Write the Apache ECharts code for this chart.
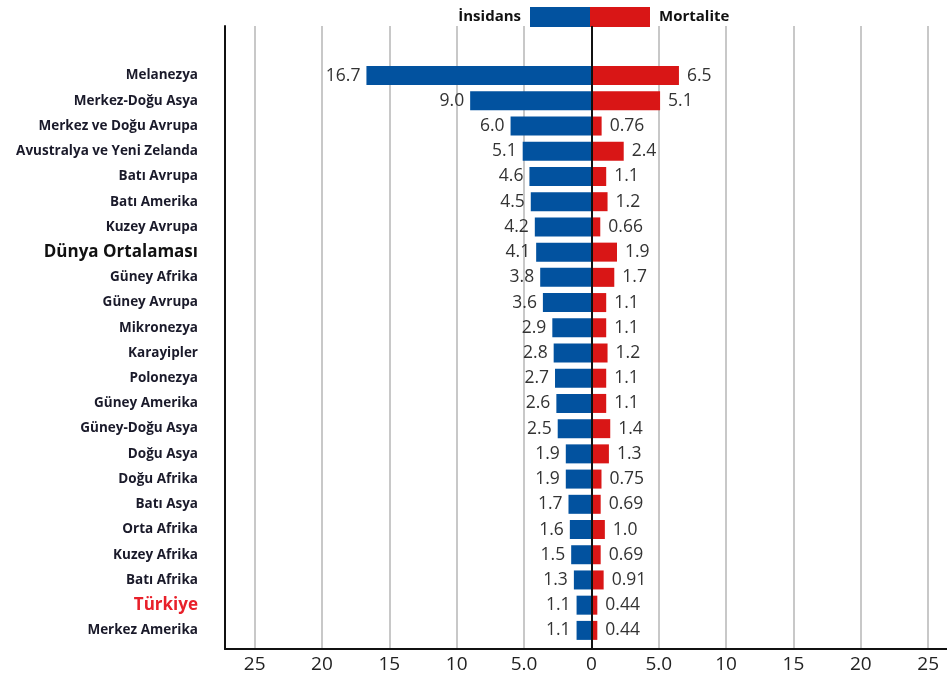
<!DOCTYPE html>
<html>
<head>
<meta charset="utf-8">
<script src="https://cdn.jsdelivr.net/npm/echarts@6/dist/echarts.min.js"></script>
<style>
    html, body { margin: 0; padding: 0; background: #fff; }
    #main { width: 947px; height: 680px; }
</style>
</head>
<body>
<div id="main"></div>
<script>
//bölgeler (yukarıdan aşağıya)
var categories = [
    'Melanezya', 'Merkez-Doğu Asya', 'Merkez ve Doğu Avrupa', 'Avustralya ve Yeni Zelanda',
    'Batı Avrupa', 'Batı Amerika', 'Kuzey Avrupa', 'Dünya Ortalaması', 'Güney Afrika',
    'Güney Avrupa', 'Mikronezya', 'Karayipler', 'Polonezya', 'Güney Amerika',
    'Güney-Doğu Asya', 'Doğu Asya', 'Doğu Afrika', 'Batı Asya', 'Orta Afrika',
    'Kuzey Afrika', 'Batı Afrika', 'Türkiye', 'Merkez Amerika'
];
var insidans  = [16.7, 9.0, 6.0, 5.1, 4.6, 4.5, 4.2, 4.1, 3.8, 3.6, 2.9, 2.8, 2.7, 2.6, 2.5, 1.9, 1.9, 1.7, 1.6, 1.5, 1.3, 1.1, 1.1];
var mortalite = [6.5, 5.1, 0.76, 2.4, 1.1, 1.2, 0.66, 1.9, 1.7, 1.1, 1.1, 1.2, 1.1, 1.1, 1.4, 1.3, 0.75, 0.69, 1.0, 0.69, 0.91, 0.44, 0.44];
var xTicks    = [-25, -20, -15, -10, -5, 0, 5, 10, 15, 20, 25];

var BLUE = '#02529f', RED = '#d91616';
var X_MIN = -27.2, X_MAX = 26.4;

function tickText(v) {
    v = Math.abs(v);
    return v === 5 ? '5.0' : String(v);
}

var chart = echarts.init(document.getElementById('main'));

var option = {
    animation: false,
    backgroundColor: '#fff',
    textStyle: { fontFamily: 'Open Sans' },
    legend: [{
        data: ['İnsidans'],
        right: 357, top: 7, align: 'right', padding: 0,
        icon: 'rect', itemWidth: 60, itemHeight: 20,
        selectedMode: false,
        textStyle: { fontSize: 15, fontWeight: 'bold', color: '#111', padding: [0, 4, 0, 0] }
    }, {
        data: ['Mortalite'],
        left: 590, top: 7, align: 'left', padding: 0,
        icon: 'rect', itemWidth: 60, itemHeight: 20,
        selectedMode: false,
        textStyle: { fontSize: 15, fontWeight: 'bold', color: '#111', padding: [0, 0, 0, 4] }
    }],
    grid: [
        //çerçeve ve ızgara
        { left: 225, right: 0, top: 26, bottom: 31 },
        //çubuklar
        { left: 225, right: 0, top: 63, bottom: 37 }
    ],
    xAxis: [{
        gridIndex: 0, type: 'value', min: X_MIN, max: X_MAX,
        axisLine: { show: true, onZero: false, lineStyle: { color: '#111', width: 2 } },
        axisTick: { show: false, customValues: xTicks },
        axisLabel: {
            customValues: xTicks, formatter: tickText,
            fontSize: 19, color: '#222', margin: 6
        },
        splitLine: { show: true, lineStyle: { color: '#c8c8c8', width: 2 } }
    }, {
        gridIndex: 1, type: 'value', min: X_MIN, max: X_MAX, show: false
    }],
    yAxis: [{
        gridIndex: 0, type: 'value', min: 0, max: 1,
        axisLine: { show: true, onZero: false, lineStyle: { color: '#111', width: 2 } },
        axisTick: { show: false },
        axisLabel: { show: false },
        splitLine: { show: false }
    }, {
        gridIndex: 1, type: 'category', data: categories, inverse: true,
        axisLine: { show: false },
        axisTick: { show: false },
        axisLabel: {
            margin: 27, fontSize: 13.5, fontWeight: 'bold', color: '#1a1a2a',
            formatter: function (v) {
                if (v === 'Dünya Ortalaması') return '{big|' + v + '}';
                if (v === 'Türkiye') return '{tr|' + v + '}';
                return v;
            },
            rich: {
                big: { fontSize: 17, fontWeight: 'bold', color: '#111' },
                tr: { fontSize: 17, fontWeight: 'bold', color: '#e8202a' }
            }
        }
    }],
    series: [{
        //sıfır çizgisi
        type: 'line', xAxisIndex: 0, yAxisIndex: 0, data: [],
        silent: true,
        markLine: {
            symbol: 'none', silent: true, label: { show: false },
            lineStyle: { color: '#111', width: 2, type: 'solid' },
            data: [{ xAxis: 0 }]
        }
    }, {
        name: 'İnsidans', type: 'bar', xAxisIndex: 1, yAxisIndex: 1,
        stack: 'a', barWidth: 19,
        itemStyle: { color: BLUE },
        data: insidans.map(function (v) { return -v; }),
        label: {
            show: true, position: 'left', distance: 6,
            fontSize: 17.5, color: '#333',
            formatter: function (p) { return Math.abs(p.value).toFixed(1); }
        }
    }, {
        name: 'Mortalite', type: 'bar', xAxisIndex: 1, yAxisIndex: 1,
        stack: 'a', barWidth: 19,
        itemStyle: { color: RED },
        data: mortalite,
        label: {
            show: true, position: 'right', distance: 8,
            fontSize: 17.5, color: '#333',
            formatter: function (p) { return p.value >= 1 ? p.value.toFixed(1) : p.value.toFixed(2); }
        }
    }]
};

chart.setOption(option);
</script>
</body>
</html>
